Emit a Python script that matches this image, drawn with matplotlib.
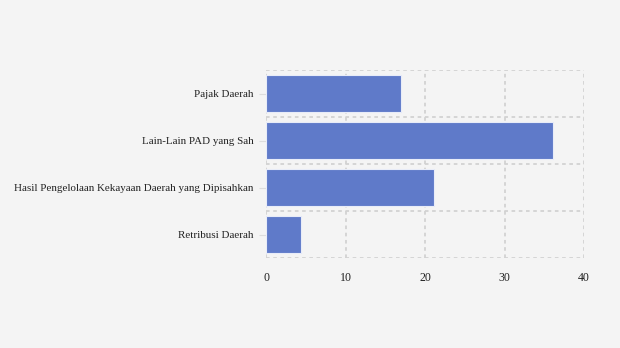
import numpy as np
import matplotlib.pyplot as plt

categories = ["Pajak Daerah", "Lain-Lain PAD yang Sah",
              "Hasil Pengelolaan Kekayaan Daerah yang Dipisahkan", "Retribusi Daerah"]
values = [17.0, 36.1, 21.1, 4.4]
x_ticks = [0, 10, 20, 30, 40]

plt.rcParams['font.family'] = ['Liberation Serif', 'DejaVu Serif']

fig = plt.figure(figsize=(6.2, 3.48), dpi=100, facecolor='#f4f4f4')
ax = fig.add_axes([266 / 620, 1 - 258 / 348, 318 / 620, 188 / 348])
ax.set_facecolor('#f4f4f4')

y = np.arange(len(categories))
ax.barh(y, values, height=0.8, color='#5f7ac9', edgecolor='#e8ecf8', linewidth=0.8, zorder=3)

ax.set_ylim(len(categories) - 0.5, -0.5)
ax.set_xlim(0, 40)
ax.set_yticks(y)
ax.set_yticklabels(categories)
ax.set_yticks(np.arange(-0.5, len(categories)), minor=True)
ax.set_xticks(x_ticks)

ax.grid(True, which='minor', axis='y', color='#d2d2d2', linestyle=(0, (2, 2)), linewidth=1.3)
ax.grid(True, which='major', axis='x', color='#d2d2d2', linestyle=(0, (2, 2)), linewidth=1.3)
ax.tick_params(axis='y', which='major', length=5, color='#dddddd', labelsize=7.9, pad=4,
               labelcolor='#222222')
ax.tick_params(axis='y', which='minor', length=0)
ax.tick_params(axis='x', length=0, labelsize=8.6, pad=10, labelcolor='#222222')
for s in ax.spines.values():
    s.set_visible(False)

fig.savefig('out.png', dpi=100, facecolor=fig.get_facecolor())
